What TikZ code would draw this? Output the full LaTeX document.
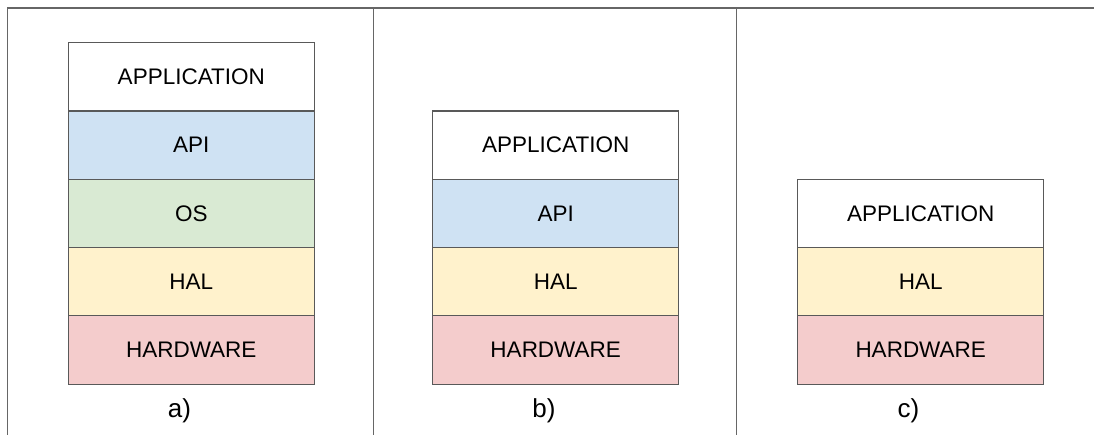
\documentclass[tikz,border=0pt]{standalone}
\usepackage{fontspec}
\setmainfont{Liberation Sans}
\definecolor{apiblue}{HTML}{CFE2F3}
\definecolor{osgreen}{HTML}{D9EAD3}
\definecolor{halyellow}{HTML}{FFF2CC}
\definecolor{hwred}{HTML}{F4CCCC}
\definecolor{edgegray}{HTML}{595959}
\definecolor{framegray}{HTML}{666666}
\begin{document}
\begin{tikzpicture}[x=1pt,y=-1pt,
  layer/.style={draw=edgegray, line width=1.1pt, minimum width=246pt, minimum height=68.3pt,
    inner sep=0pt, outer sep=0pt, anchor=north west, font=\fontsize{22.5}{26}\selectfont},
  caption/.style={font=\fontsize{26}{30}\selectfont, inner sep=0pt},
  frame/.style={draw=framegray, line width=1.2pt}]
\useasboundingbox (0,0) rectangle (1094,435);
\fill[white] (0,0) rectangle (1094,435);

% frame and column dividers
\coordinate (tl) at (7.5,8);
\coordinate (bl) at (7.5,435);
\coordinate (tr) at (1094,8);
\coordinate (d1t) at (373.3,8);
\coordinate (d1b) at (373.3,435);
\coordinate (d2t) at (736.7,8);
\coordinate (d2b) at (736.7,435);
\draw[frame] (bl) -- (tl) -- (tr);
\draw[frame] (d1t) -- (d1b);
\draw[frame] (d2t) -- (d2b);

% a) full stack
\node[layer, fill=white]     (a1) at (68.3,42.7)  {APPLICATION};
\node[layer, fill=apiblue]   (a2) at (68.3,111)   {API};
\node[layer, fill=osgreen]   (a3) at (68.3,179.3) {OS};
\node[layer, fill=halyellow] (a4) at (68.3,247.6) {HAL};
\node[layer, fill=hwred]     (a5) at (68.3,315.9) {HARDWARE};
\node[caption] (la) at (179.5,411) {a)};

% b) without OS
\node[layer, fill=white]     (b1) at (432.7,111)   {APPLICATION};
\node[layer, fill=apiblue]   (b2) at (432.7,179.3) {API};
\node[layer, fill=halyellow] (b3) at (432.7,247.6) {HAL};
\node[layer, fill=hwred]     (b4) at (432.7,315.9) {HARDWARE};
\node[caption] (lb) at (544,411) {b)};

% c) application directly on HAL
\node[layer, fill=white]     (c1) at (797.7,179.3) {APPLICATION};
\node[layer, fill=halyellow] (c2) at (797.7,247.6) {HAL};
\node[layer, fill=hwred]     (c3) at (797.7,315.9) {HARDWARE};
\node[caption] (lc) at (908.5,411) {c)};
\end{tikzpicture}
\end{document}
